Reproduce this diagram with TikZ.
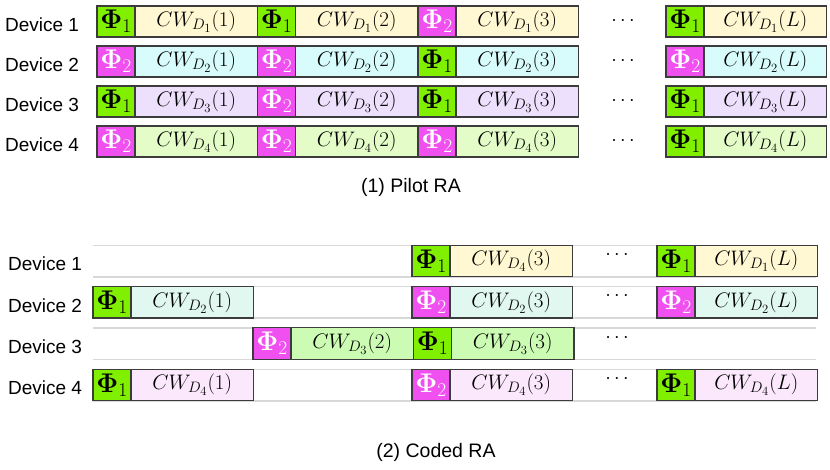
\RequirePackage{fix-cm}
\documentclass[tikz,border=0pt]{standalone}
\usepackage[no-math]{fontspec}
\setmainfont{Liberation Sans}
\def\defaultscriptratio{.72}
\def\defaultscriptscriptratio{.6}
\definecolor{pgreen}{RGB}{128,240,0}
\definecolor{pmag}{RGB}{240,80,240}
\definecolor{boxline}{RGB}{60,60,60}
\definecolor{gline}{RGB}{216,216,216}
\definecolor{tA}{RGB}{255,248,210}
\definecolor{tB}{RGB}{216,252,252}
\definecolor{tC}{RGB}{236,224,252}
\definecolor{tD}{RGB}{228,252,200}
\definecolor{bA}{RGB}{255,248,210}
\definecolor{bB}{RGB}{224,248,240}
\definecolor{bC}{RGB}{204,252,180}
\definecolor{bD}{RGB}{252,232,252}
\tikzset{
  every node/.style={inner sep=0pt, outer sep=0pt},
  box/.style={draw=boxline, line width=1.2pt, minimum height=31pt, anchor=west,
    font=\fontsize{21}{24}\selectfont},
  pg/.style={box, fill=pgreen, minimum width=38pt, text=black, font=\fontsize{27}{30}\selectfont},
  pm/.style={box, fill=pmag, minimum width=38pt, text=white, font=\fontsize{27}{30}\selectfont},
  cw/.style={box, minimum width=122.5pt},
  dev/.style={font=\fontsize{19}{22}\selectfont},
  capt/.style={font=\fontsize{19.5}{23}\selectfont},
  dotsn/.style={font=\fontsize{20}{24}\selectfont},
  grayline/.style={draw=gline, line width=1.5pt},
}
\begin{document}
\begin{tikzpicture}[x=1pt,y=-1pt]
\useasboundingbox (0,0) rectangle (830,469);
% ---------- (1) Pilot RA ----------
\foreach \i/\yc in {1/21.5,2/61.5,3/101.5,4/141.5}{
  \node[dev] (td\i) at (42,\yc+3) {Device \i};
  \node[dotsn] (tdots\i) at (623,\yc) {$\cdots$};
}
% row 1
\node[pg] (a1p) at (97,21.5) {$\mathbf{\Phi}_1$};
\node[cw, fill=tA] (a1c) at (a1p.east) {$CW_{D_1}(1)$};
\node[pg] (a2p) at (a1c.east) {$\mathbf{\Phi}_1$};
\node[cw, fill=tA] (a2c) at (a2p.east) {$CW_{D_1}(2)$};
\node[pm] (a3p) at (a2c.east) {$\mathbf{\Phi}_2$};
\node[cw, fill=tA] (a3c) at (a3p.east) {$CW_{D_1}(3)$};
\node[pg] (a4p) at (666,21.5) {$\mathbf{\Phi}_1$};
\node[cw, fill=tA] (a4c) at (a4p.east) {$CW_{D_1}(L)$};
% row 2
\node[pm] (b1p) at (97,61.5) {$\mathbf{\Phi}_2$};
\node[cw, fill=tB] (b1c) at (b1p.east) {$CW_{D_2}(1)$};
\node[pm] (b2p) at (b1c.east) {$\mathbf{\Phi}_2$};
\node[cw, fill=tB] (b2c) at (b2p.east) {$CW_{D_2}(2)$};
\node[pg] (b3p) at (b2c.east) {$\mathbf{\Phi}_1$};
\node[cw, fill=tB] (b3c) at (b3p.east) {$CW_{D_2}(3)$};
\node[pm] (b4p) at (666,61.5) {$\mathbf{\Phi}_2$};
\node[cw, fill=tB] (b4c) at (b4p.east) {$CW_{D_2}(L)$};
% row 3
\node[pg] (c1p) at (97,101.5) {$\mathbf{\Phi}_1$};
\node[cw, fill=tC] (c1c) at (c1p.east) {$CW_{D_3}(1)$};
\node[pm] (c2p) at (c1c.east) {$\mathbf{\Phi}_2$};
\node[cw, fill=tC] (c2c) at (c2p.east) {$CW_{D_3}(2)$};
\node[pg] (c3p) at (c2c.east) {$\mathbf{\Phi}_1$};
\node[cw, fill=tC] (c3c) at (c3p.east) {$CW_{D_3}(3)$};
\node[pg] (c4p) at (666,101.5) {$\mathbf{\Phi}_1$};
\node[cw, fill=tC] (c4c) at (c4p.east) {$CW_{D_3}(L)$};
% row 4
\node[pm] (d1p) at (97,141.5) {$\mathbf{\Phi}_2$};
\node[cw, fill=tD] (d1c) at (d1p.east) {$CW_{D_4}(1)$};
\node[pm] (d2p) at (d1c.east) {$\mathbf{\Phi}_2$};
\node[cw, fill=tD] (d2c) at (d2p.east) {$CW_{D_4}(2)$};
\node[pm] (d3p) at (d2c.east) {$\mathbf{\Phi}_2$};
\node[cw, fill=tD] (d3c) at (d3p.east) {$CW_{D_4}(3)$};
\node[pg] (d4p) at (666,141.5) {$\mathbf{\Phi}_1$};
\node[cw, fill=tD] (d4c) at (d4p.east) {$CW_{D_4}(L)$};
\node[capt] (cap1) at (411,187) {(1) Pilot RA};
% ---------- (2) Coded RA ----------
\foreach \i/\yc in {1/261,2/302.3,3/343.6,4/385}{
  \coordinate (gt\i a) at (93,\yc-15.75);
  \coordinate (gt\i b) at (816,\yc-15.75);
  \coordinate (gb\i a) at (93,\yc+15.75);
  \coordinate (gb\i b) at (816,\yc+15.75);
  \draw[grayline] (gt\i a) -- (gt\i b);
  \draw[grayline] (gb\i a) -- (gb\i b);
  \node[dev] (bd\i) at (45,\yc+3) {Device \i};
  \node[dotsn] (bdots\i) at (617,\yc-6) {$\cdots$};
}
\tikzset{box/.append style={minimum height=31.5pt}}
% row 1
\node[pg] (e3p) at (412,261) {$\mathbf{\Phi}_1$};
\node[cw, fill=bA] (e3c) at (e3p.east) {$CW_{D_4}(3)$};
\node[pg] (e4p) at (657,261) {$\mathbf{\Phi}_1$};
\node[cw, fill=bA] (e4c) at (e4p.east) {$CW_{D_1}(L)$};
% row 2
\node[pg] (f1p) at (93,302.3) {$\mathbf{\Phi}_1$};
\node[cw, fill=bB] (f1c) at (f1p.east) {$CW_{D_2}(1)$};
\node[pm] (f3p) at (412,302.3) {$\mathbf{\Phi}_2$};
\node[cw, fill=bB] (f3c) at (f3p.east) {$CW_{D_2}(3)$};
\node[pm] (f4p) at (657,302.3) {$\mathbf{\Phi}_2$};
\node[cw, fill=bB] (f4c) at (f4p.east) {$CW_{D_2}(L)$};
% row 3
\node[pm] (g2p) at (253,343.6) {$\mathbf{\Phi}_2$};
\node[cw, fill=bC] (g2c) at (g2p.east) {$CW_{D_3}(2)$};
\node[pg] (g3p) at (g2c.east) {$\mathbf{\Phi}_1$};
\node[cw, fill=bC] (g3c) at (g3p.east) {$CW_{D_3}(3)$};
% row 4
\node[pg] (h1p) at (93,385) {$\mathbf{\Phi}_1$};
\node[cw, fill=bD] (h1c) at (h1p.east) {$CW_{D_4}(1)$};
\node[pm] (h3p) at (412,385) {$\mathbf{\Phi}_2$};
\node[cw, fill=bD] (h3c) at (h3p.east) {$CW_{D_4}(3)$};
\node[pg] (h4p) at (657,385) {$\mathbf{\Phi}_1$};
\node[cw, fill=bD] (h4c) at (h4p.east) {$CW_{D_4}(L)$};
\node[capt] (cap2) at (436,452) {(2) Coded RA};
\end{tikzpicture}
\end{document}
